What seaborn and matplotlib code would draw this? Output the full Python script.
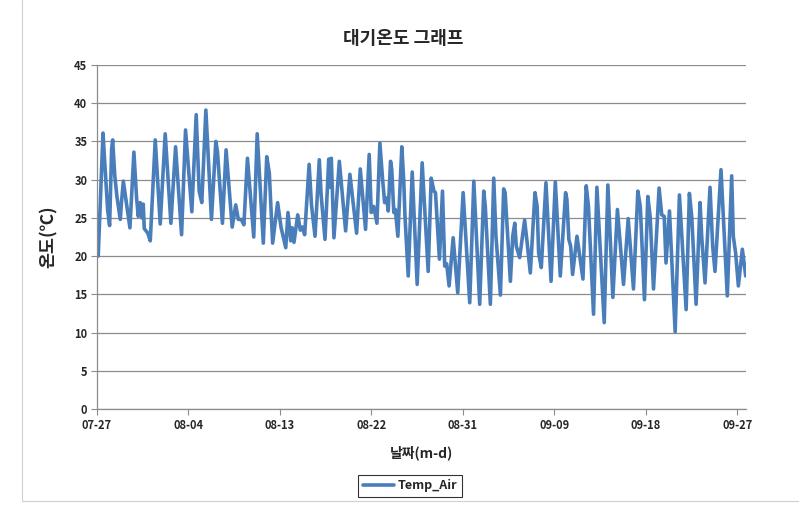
import matplotlib
matplotlib.use("Agg")
import matplotlib.pyplot as plt
import matplotlib.lines as mlines
import seaborn as sns
import pandas as pd

# Turning points of the hourly air-temperature trace
# (day offset from 07-27 00h, temperature in deg C)
day = [0.00, 0.12, 0.59, 0.75, 1.05, 1.24, 1.44, 1.54, 1.75, 1.96, 2.29, 2.42, 2.59, 3.24, 3.63,
       3.90, 4.06, 4.25, 4.42, 4.55, 4.65, 5.00, 5.24, 5.73, 6.22, 6.71, 7.27, 7.73, 8.32, 8.71,
       9.33, 9.76, 10.05, 10.31, 10.71, 11.26, 11.69, 11.85, 12.34, 12.70, 13.30, 13.65, 13.90,
       14.20, 14.45, 14.80, 15.42, 15.76, 16.36, 16.70, 16.95, 17.28, 17.77, 18.10, 18.57, 18.79,
       19.06, 19.20, 19.38, 19.75, 20.00, 20.20, 20.43, 20.87, 21.10, 21.45, 21.87, 22.05, 22.43,
       22.80, 22.95, 23.05, 23.31, 23.84, 24.46, 24.88, 25.54, 25.90, 26.42, 26.78, 26.98, 27.22,
       27.54, 27.83, 28.10, 28.30, 28.50, 28.65, 28.88, 29.00, 29.20, 29.35, 29.60, 29.99, 30.18,
       30.30, 30.62, 31.01, 31.50, 31.99, 32.15, 32.58, 32.88, 33.15, 33.30, 33.69, 33.99, 34.21,
       34.40, 34.64, 35.04, 35.49, 36.02, 36.67, 37.07, 37.65, 38.05, 38.20, 38.70, 39.03, 39.25,
       39.69, 40.01, 40.15, 40.67, 40.90, 41.10, 41.25, 41.58, 42.07, 42.30, 42.63, 43.09, 43.30,
       43.45, 43.71, 44.17, 44.67, 45.09, 45.58, 46.10, 46.23, 46.42, 46.60, 46.79, 47.22, 47.81,
       48.13, 48.35, 48.85, 49.18, 49.90, 50.26, 50.75, 51.20, 51.80, 52.26, 52.78, 53.21, 53.45,
       53.86, 54.19, 54.42, 54.75, 55.30, 55.56, 55.80, 55.98, 56.32, 56.88, 57.30, 57.96, 58.28,
       58.51, 58.94, 59.33, 59.49, 59.82, 60.31, 60.57, 60.80, 61.39, 62.01, 62.44, 62.60, 62.83,
       63.10, 63.49, 63.82]
temp_air = [23.8, 20.0, 36.1, 32.5, 26.0, 24.0, 34.0, 35.2, 30.5, 27.8, 24.8, 27.2, 29.8, 23.7, 33.6,
            27.5, 25.2, 27.0, 25.0, 26.8, 23.6, 23.0, 22.0, 35.2, 24.2, 36.0, 24.3, 34.3, 22.8, 36.5,
            25.8, 38.5, 28.5, 27.0, 39.1, 24.8, 35.0, 33.7, 24.3, 33.9, 23.8, 26.7, 24.8,
            24.8, 24.1, 32.8, 22.5, 36.0, 21.7, 33.0, 30.9, 21.7, 27.0, 23.8, 21.1, 25.7,
            22.0, 23.7, 21.8, 25.4, 23.4, 23.8, 22.8, 32.0, 26.7, 22.6, 32.6, 28.0, 22.2,
            32.7, 29.0, 32.8, 22.4, 32.4, 23.3, 30.7, 23.0, 31.4, 23.5, 33.3, 25.7, 26.5,
            24.3, 34.8, 30.0, 27.0, 27.6, 25.9, 32.4, 31.3, 25.7, 26.1, 22.6, 34.3, 29.8,
            25.2, 17.4, 31.0, 16.3, 32.2, 28.3, 18.0, 30.2, 28.5, 28.3, 19.6, 28.5, 18.7,
            19.0, 16.1, 22.4, 15.2, 28.3, 13.9, 29.8, 13.7, 28.5, 26.5, 13.7, 30.2, 22.6,
            14.9, 28.8, 28.3, 16.7, 22.6, 24.3, 21.3, 19.8, 24.7, 22.0, 17.8, 28.3, 26.5,
            20.4, 18.5, 29.6, 16.7, 29.7, 17.4, 28.3, 27.4, 22.2, 21.3, 17.6, 22.6, 17.0,
            29.2, 26.5, 12.4, 29.0, 11.3, 29.3, 14.6, 26.1, 16.3, 24.9, 15.7, 28.5, 26.5,
            14.3, 27.8, 25.2, 15.7, 28.9, 25.4, 25.2, 19.1, 25.9, 10.1, 28.0, 13.0, 28.2,
            25.2, 13.7, 27.0, 22.6, 16.5, 29.0, 21.3, 18.0, 31.3, 14.8, 30.5, 22.6, 20.4,
            16.1, 20.9, 17.4]

tick_days = [0, 9, 18, 27, 36, 45, 54, 63]
tick_labels = ["07-27", "08-04", "08-13", "08-22", "08-31", "09-09", "09-18", "09-27"]
y_ticks = [0, 5, 10, 15, 20, 25, 30, 35, 40, 45]

df = pd.DataFrame({"day": day, "Temp_Air": temp_air})

sns.set_style("white")
plt.rcParams["font.family"] = ["Noto Sans CJK KR", "DejaVu Sans"]

fig = plt.figure(figsize=(7.99, 5.08), dpi=100)
ax = fig.add_axes([97 / 799, 1 - 409 / 508, (746 - 97) / 799, (409 - 65) / 508])

sns.lineplot(data=df, x="day", y="Temp_Air", ax=ax, color="#4A7EBB", linewidth=2.6,
             label="Temp_Air", legend=False)

ax.set_xlim(0, 63.85)
ax.set_ylim(0, 45)
ax.set_yticks(y_ticks)
ax.set_xticks(tick_days)
ax.set_xticklabels(tick_labels)
for lab in ax.get_xticklabels() + ax.get_yticklabels():
    lab.set_fontweight("bold")
    lab.set_fontsize(8)
ax.yaxis.grid(True, color="#8c8c8c", linewidth=0.9)
ax.xaxis.grid(False)
ax.set_axisbelow(True)
for s in ["top", "right"]:
    ax.spines[s].set_visible(False)
for s in ["left", "bottom"]:
    ax.spines[s].set_color("#8c8c8c")
    ax.spines[s].set_linewidth(0.9)
ax.tick_params(axis="both", which="major", length=4, width=0.8, color="#8c8c8c",
               direction="out", left=True, bottom=True, pad=3)

ax.set_xlabel("날짜(m-d)", fontsize=10, fontweight="bold", labelpad=10)
ax.set_ylabel("온도(℃)", fontsize=12.5, fontweight="bold", labelpad=12)
fig.text(0.505, 1 - 38 / 508, "대기온도 그래프", ha="center", va="center",
         fontsize=13, fontweight="bold")

h, l = ax.get_legend_handles_labels()
leg = fig.legend(h, l, loc="center", bbox_to_anchor=(0.513, 1 - 486 / 508),
                 frameon=True, fancybox=False, edgecolor="black",
                 prop={"weight": "bold", "size": 9}, handlelength=2.5,
                 borderpad=0.35, handletextpad=0.3)
leg.get_frame().set_linewidth(0.8)

# light chart-area border visible at the left and bottom of the screenshot
fig.add_artist(mlines.Line2D([22 / 799, 22 / 799], [1 - 501 / 508, 1.0],
                             transform=fig.transFigure, color="#d0d0d0", linewidth=0.8))
fig.add_artist(mlines.Line2D([22 / 799, 1.0], [1 - 501 / 508, 1 - 501 / 508],
                             transform=fig.transFigure, color="#d0d0d0", linewidth=0.8))

fig.savefig("out.png", dpi=100)
